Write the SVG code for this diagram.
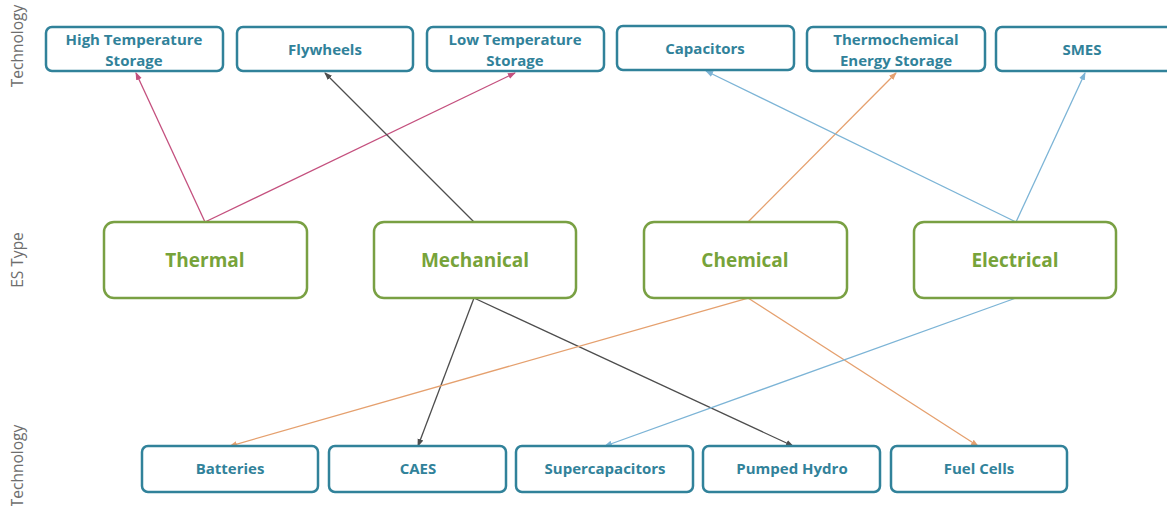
<svg xmlns="http://www.w3.org/2000/svg" width="1167" height="506" viewBox="0 0 1167 506">
<style>
.tech rect{fill:#fff;stroke:#31829a;stroke-width:2.5}
.tech text{fill:#31829a;font-family:"Open Sans","Liberation Sans",sans-serif;font-weight:bold;font-size:15px;text-anchor:middle}
.es rect{fill:#fff;stroke:#79a043;stroke-width:2.5}
.es text{fill:#77a33a;font-family:"Open Sans","Liberation Sans",sans-serif;font-weight:bold;font-size:19px;text-anchor:middle}
.side{fill:#6e6e6e;font-family:"Open Sans","Liberation Sans",sans-serif;font-size:15.5px;text-anchor:middle}
.c{fill:none;stroke-width:1.3}
.pink{stroke:#c4507e}.gray{stroke:#4d4d4d}.orange{stroke:#e5a06e}.blue{stroke:#7cb4d6}
</style>
<defs>
<marker id="mp" markerWidth="8" markerHeight="8" refX="7" refY="4" orient="auto" markerUnits="userSpaceOnUse"><path d="M0,1 L8,4 L0,7 z" fill="#c4507e"/></marker>
<marker id="mg" markerWidth="8" markerHeight="8" refX="7" refY="4" orient="auto" markerUnits="userSpaceOnUse"><path d="M0,1 L8,4 L0,7 z" fill="#4d4d4d"/></marker>
<marker id="mo" markerWidth="8" markerHeight="8" refX="7" refY="4" orient="auto" markerUnits="userSpaceOnUse"><path d="M0,1 L8,4 L0,7 z" fill="#e5a06e"/></marker>
<marker id="mb" markerWidth="8" markerHeight="8" refX="7" refY="4" orient="auto" markerUnits="userSpaceOnUse"><path d="M0,1 L8,4 L0,7 z" fill="#7cb4d6"/></marker>
</defs>
<rect width="1167" height="506" fill="#fff"/>
<text class="side" transform="translate(23,46) rotate(-90)">Technology</text>
<text class="side" transform="translate(23,260) rotate(-90)">ES Type</text>
<text class="side" transform="translate(23,466) rotate(-90)">Technology</text>
<g id="connectors">
<line class="c pink" x1="205" y1="222" x2="136" y2="73" marker-end="url(#mp)"/>
<line class="c pink" x1="205" y1="222" x2="515" y2="73" marker-end="url(#mp)"/>
<line class="c gray" x1="474" y1="222" x2="325" y2="73" marker-end="url(#mg)"/>
<line class="c orange" x1="748" y1="222" x2="896" y2="73" marker-end="url(#mo)"/>
<line class="c blue" x1="1016" y1="222" x2="706" y2="71" marker-end="url(#mb)"/>
<line class="c blue" x1="1016" y1="222" x2="1085" y2="73" marker-end="url(#mb)"/>
<line class="c gray" x1="474" y1="298" x2="418" y2="446" marker-end="url(#mg)"/>
<line class="c gray" x1="474" y1="298" x2="793" y2="446" marker-end="url(#mg)"/>
<line class="c orange" x1="748" y1="298" x2="230" y2="446" marker-end="url(#mo)"/>
<line class="c orange" x1="748" y1="298" x2="978" y2="446" marker-end="url(#mo)"/>
<line class="c blue" x1="1016" y1="298" x2="605" y2="446" marker-end="url(#mb)"/>
</g>
<g id="hts" class="tech"><rect x="46" y="27" width="177" height="44" rx="6"/><text x="134" y="45">High Temperature</text><text x="134" y="66">Storage</text></g>
<g id="flywheels" class="tech"><rect x="237" y="27" width="176" height="44" rx="6"/><text x="325" y="55">Flywheels</text></g>
<g id="lts" class="tech"><rect x="427" y="27" width="177" height="44" rx="6"/><text x="515" y="45">Low Temperature</text><text x="515" y="66">Storage</text></g>
<g id="capacitors" class="tech"><rect x="617" y="26" width="177" height="44" rx="6"/><text x="705" y="54">Capacitors</text></g>
<g id="thermochemical" class="tech"><rect x="807" y="27" width="178" height="44" rx="6"/><text x="896" y="45">Thermochemical</text><text x="896" y="66">Energy Storage</text></g>
<g id="smes" class="tech"><rect x="996" y="27" width="180" height="44" rx="6"/><text x="1082" y="55">SMES</text></g>
<g id="thermal" class="es"><rect x="104" y="222" width="203" height="76" rx="10"/><text x="205" y="267">Thermal</text></g>
<g id="mechanical" class="es"><rect x="374" y="222" width="202" height="76" rx="10"/><text x="475" y="267">Mechanical</text></g>
<g id="chemical" class="es"><rect x="644" y="222" width="203" height="76" rx="10"/><text x="745" y="267">Chemical</text></g>
<g id="electrical" class="es"><rect x="914" y="222" width="202" height="76" rx="10"/><text x="1015" y="267">Electrical</text></g>
<g id="batteries" class="tech"><rect x="142" y="446" width="176" height="46" rx="6"/><text x="230" y="474">Batteries</text></g>
<g id="caes" class="tech"><rect x="329" y="446" width="177" height="46" rx="6"/><text x="418" y="474">CAES</text></g>
<g id="supercapacitors" class="tech"><rect x="516" y="446" width="177" height="46" rx="6"/><text x="605" y="474">Supercapacitors</text></g>
<g id="pumped" class="tech"><rect x="703" y="446" width="177" height="46" rx="6"/><text x="792" y="474">Pumped Hydro</text></g>
<g id="fuelcells" class="tech"><rect x="891" y="446" width="176" height="46" rx="6"/><text x="979" y="474">Fuel Cells</text></g>
</svg>
